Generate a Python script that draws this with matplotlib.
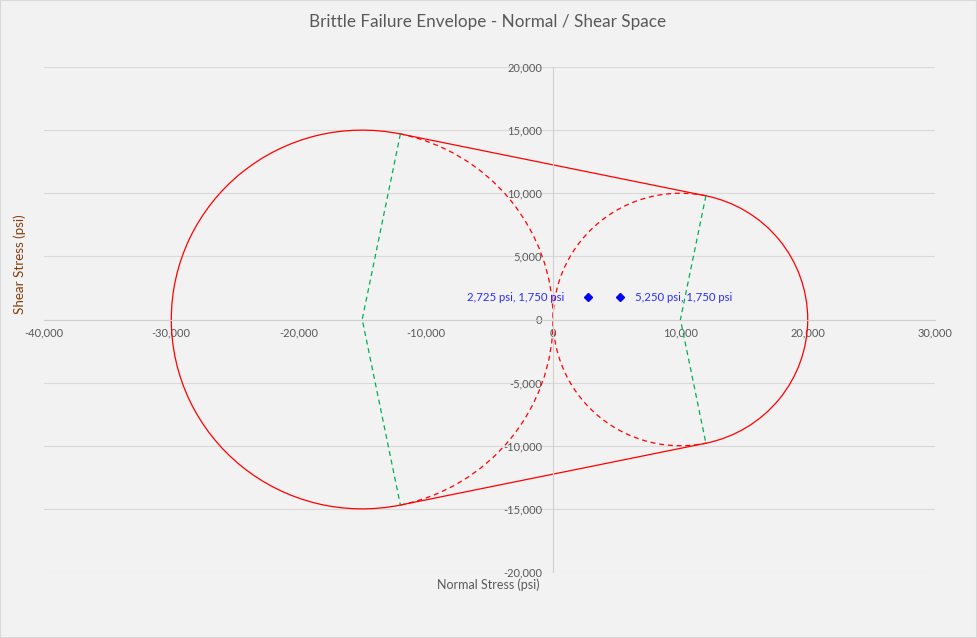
import numpy as np
import matplotlib
matplotlib.use('Agg')
import matplotlib.pyplot as plt
from matplotlib.patches import Arc

plt.rcParams['font.family'] = ['Lato', 'DejaVu Sans']

# Mohr circles for the two strength tests (psi)
circle_centers = [-15000, 10000]
circle_radii = [15000, 10000]

# stress states
point_x = [2725, 5250]
point_y = [1750, 1750]
point_labels = ['2,725 psi, 1,750 psi', '5,250 psi, 1,750 psi']

x_ticks = [-40000, -30000, -20000, -10000, 0, 10000, 20000, 30000]
y_ticks = [-20000, -15000, -10000, -5000, 0, 5000, 10000, 15000, 20000]

bg = '#f2f2f2'
grey = '#595959'
red = '#ff0000'
green = '#00b050'

fig = plt.figure(figsize=(9.77, 6.38), dpi=100, facecolor=bg)
ax = fig.add_axes([44/977, 1-572/638, (935-44)/977, (572-67)/638])
ax.set_facecolor(bg)

c1, c2 = circle_centers
r1, r2 = circle_radii
# angle of the common tangent points
th = np.degrees(np.arccos((r1 - r2) / (c2 - c1)))
t = np.radians(th)
p1 = (c1 + r1*np.cos(t), r1*np.sin(t))
p2 = (c2 + r2*np.cos(t), r2*np.sin(t))

# envelope - solid
ax.add_patch(Arc((c1, 0), 2*r1, 2*r1, theta1=th, theta2=360-th, color=red, lw=0.9))
ax.add_patch(Arc((c2, 0), 2*r2, 2*r2, theta1=-th, theta2=th, color=red, lw=0.9))
ax.plot([p1[0], p2[0]], [p1[1], p2[1]], color=red, lw=0.9)
ax.plot([p1[0], p2[0]], [-p1[1], -p2[1]], color=red, lw=0.9)

# inner parts of the circles - dashed
ax.add_patch(Arc((c1, 0), 2*r1, 2*r1, theta1=-th, theta2=th, color=red, lw=0.9, ls=(0, (4, 3))))
ax.add_patch(Arc((c2, 0), 2*r2, 2*r2, theta1=th, theta2=360-th, color=red, lw=0.9, ls=(0, (4, 3))))

# radii to the tangent points
ax.plot([p1[0], c1, p1[0]], [p1[1], 0, -p1[1]], color=green, lw=0.9, ls=(0, (4, 3)))
ax.plot([p2[0], c2, p2[0]], [p2[1], 0, -p2[1]], color=green, lw=0.9, ls=(0, (4, 3)))

ax.plot(point_x, point_y, ls='none', marker='D', ms=4.5, color='#0000ff')
ax.annotate(point_labels[0], (point_x[0], point_y[0]), xytext=(-17, 0), textcoords='offset points',
            ha='right', va='center', color='#2b2bff', fontsize=8.2)
ax.annotate(point_labels[1], (point_x[1], point_y[1]), xytext=(11, 0), textcoords='offset points',
            ha='left', va='center', color='#2b2bff', fontsize=8.2)

ax.set_xlim(-40000, 30000)
ax.set_ylim(-20000, 20000)
ax.set_xticks(x_ticks)
ax.set_yticks(y_ticks)
ax.set_xticklabels([f'{v:,}' for v in x_ticks])
ax.set_yticklabels([f'{v:,}' for v in y_ticks])
ax.tick_params(length=0, labelsize=8, labelcolor=grey)
ax.tick_params(axis='x', pad=6)
ax.tick_params(axis='y', pad=8)

ax.grid(axis='y', color='#d9d9d9', lw=0.8)
ax.set_axisbelow(True)
for s in ['top', 'right']:
    ax.spines[s].set_visible(False)
ax.spines['left'].set_position(('data', 0))
ax.spines['bottom'].set_position(('data', 0))
ax.spines['left'].set_color('#d0d0d0')
ax.spines['bottom'].set_color('#d0d0d0')
ax.spines['left'].set_linewidth(0.8)
ax.spines['bottom'].set_linewidth(0.8)

fig.text(488/977, 1-22/638, 'Brittle Failure Envelope - Normal / Shear Space',
         ha='center', va='center', fontsize=12.3, color=grey)
fig.text(488/977, 1-585/638, 'Normal Stress (psi)', ha='center', va='center', fontsize=9, color=grey)
fig.text(20/977, 1-264/638, 'Shear Stress (psi)', ha='center', va='center', rotation=90,
         fontsize=9.6, color='#843c0c')

# light frame round the chart
fig.patches.append(plt.Rectangle((0, 0), 1, 1, transform=fig.transFigure, fill=False,
                                 edgecolor='#d9d9d9', lw=1.5))

fig.savefig('out.png', dpi=100, facecolor=bg)
